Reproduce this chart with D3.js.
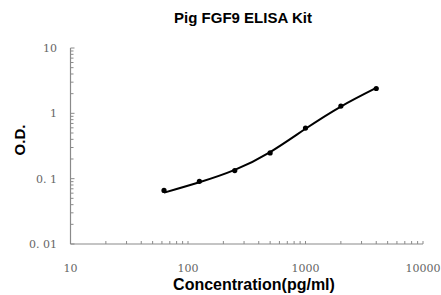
<!DOCTYPE html>
<html>
<head>
<meta charset="utf-8">
<script src="https://cdn.jsdelivr.net/npm/d3@7"></script>
<style>
  body { margin: 0; background: #fff; }
  svg { display: block; }
</style>
</head>
<body>
<script>
// standard points
const conc = [62.5, 125, 250, 500, 1000, 2000, 4000];
const od = [0.066, 0.091, 0.133, 0.248, 0.594, 1.29, 2.40];
// fitted curve
const fitConc = [62.5, 125, 250, 500, 1000, 2000, 4000];
const fitOd = [0.061, 0.088, 0.136, 0.255, 0.58, 1.27, 2.45];

const xTicks = [10, 100, 1000, 10000];
const xTickLabels = ["10", "100", "1000", "10000"];
const yTicks = [0.01, 0.1, 1, 10];
const yTickLabels = ["0. 01", "0. 1", "1", "10"];

const w = 441, h = 295;
const svg = d3.select("body").append("svg")
  .attr("width", w).attr("height", h);

const x = d3.scaleLog().domain([10, 10000]).range([70.5, 423]);
const y = d3.scaleLog().domain([0.01, 10]).range([244, 48]);

const axisColor = "#8a8a8a";
const labelColor = "#666";

// minor ticks for every decade
const minorX = [];
for (let d = 10; d < 10000; d *= 10) for (let k = 1; k <= 9; k++) minorX.push(d * k);
const minorY = [];
for (let d = 0.01; d < 10; d *= 10) for (let k = 1; k <= 9; k++) minorY.push(+(d * k).toPrecision(3));

const g = svg.append("g");

// x axis line + ticks (inward)
g.append("line")
  .attr("x1", x(10)).attr("x2", x(10000))
  .attr("y1", y(0.01)).attr("y2", y(0.01))
  .attr("stroke", axisColor).attr("stroke-width", 1.2);
g.selectAll(".xt").data(minorX.concat([10000])).join("line")
  .attr("x1", d => x(d)).attr("x2", d => x(d))
  .attr("y1", y(0.01)).attr("y2", y(0.01) - 3)
  .attr("stroke", axisColor);

// y axis line + ticks
g.append("line")
  .attr("x1", x(10)).attr("x2", x(10))
  .attr("y1", y(10)).attr("y2", y(0.01))
  .attr("stroke", axisColor).attr("stroke-width", 1.2);
g.selectAll(".yt").data(minorY.concat([10])).join("line")
  .attr("x1", x(10)).attr("x2", d => x(10) + (yTicks.includes(d) ? 4 : 3))
  .attr("y1", d => y(d)).attr("y2", d => y(d))
  .attr("stroke", axisColor);

// tick labels
g.selectAll(".xl").data(xTicks).join("text")
  .attr("x", d => x(d)).attr("y", 272)
  .attr("text-anchor", "middle")
  .attr("font-family", "'DejaVu Serif', serif")
  .attr("font-size", 11).attr("fill", labelColor)
  .text((d, i) => xTickLabels[i]);
g.selectAll(".yl").data(yTicks).join("text")
  .attr("x", 57).attr("y", d => y(d) + 4)
  .attr("text-anchor", "end")
  .attr("font-family", "'DejaVu Serif', serif")
  .attr("font-size", 11).attr("fill", labelColor)
  .text((d, i) => yTickLabels[i]);

// fitted curve
const line = d3.line()
  .x((d, i) => x(fitConc[i]))
  .y(d => y(d))
  .curve(d3.curveNatural);
g.append("path")
  .attr("d", line(fitOd))
  .attr("fill", "none").attr("stroke", "#000").attr("stroke-width", 2);

// points
g.selectAll(".pt").data(od).join("circle")
  .attr("cx", (d, i) => x(conc[i])).attr("cy", d => y(d))
  .attr("r", 2.6).attr("fill", "#000");

// titles
svg.append("text")
  .attr("x", 243).attr("y", 23)
  .attr("text-anchor", "middle")
  .attr("font-family", "'Liberation Sans', Arial, sans-serif")
  .attr("font-weight", "bold").attr("font-size", 15)
  .text("Pig FGF9 ELISA Kit");

svg.append("text")
  .attr("transform", "translate(25,140) rotate(-90)")
  .attr("text-anchor", "middle")
  .attr("font-family", "'Liberation Sans', Arial, sans-serif")
  .attr("font-weight", "bold").attr("font-size", 15)
  .text("O.D.");

svg.append("text")
  .attr("x", 254).attr("y", 290)
  .attr("text-anchor", "middle")
  .attr("font-family", "'Liberation Sans', Arial, sans-serif")
  .attr("font-weight", "bold").attr("font-size", 16)
  .text("Concentration(pg/ml)");
</script>
</body>
</html>
